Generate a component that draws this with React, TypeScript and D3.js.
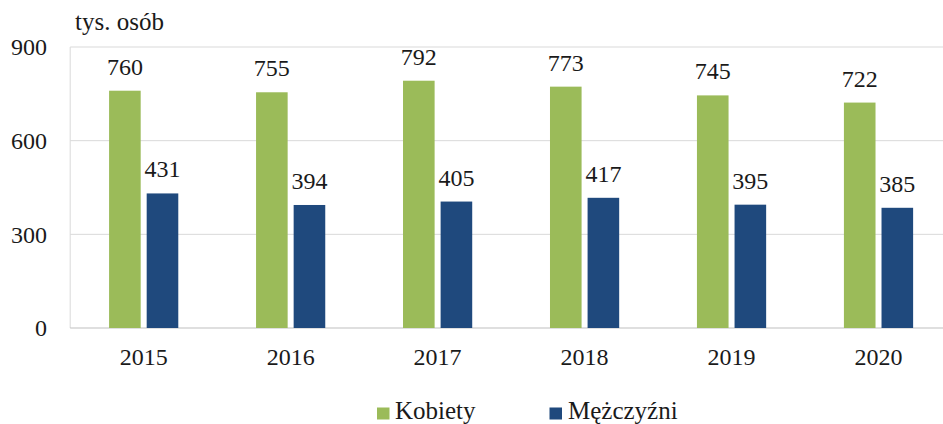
import React from "react";
import * as d3 from "d3";

const years = ["2015", "2016", "2017", "2018", "2019", "2020"];
const kobiety = [760, 755, 792, 773, 745, 722];
const mezczyzni = [431, 394, 405, 417, 395, 385];
const yTicks = [0, 300, 600, 900];
const seriesNames = ["Kobiety", "Mężczyźni"];
const colors = ["#9BBB59", "#1F497D"];

export default function App() {
  const W = 943, H = 424;
  const left = 70.2, right = 952, top = 47, bottom = 328;
  const x = d3.scaleBand<string>().domain(years).range([left, right]).paddingInner(0).paddingOuter(0);
  const y = d3.scaleLinear().domain([0, 900]).range([bottom, top]);
  const bw = 31.6, gap = 6;
  const series = [kobiety, mezczyzni];
  const txt = { fontFamily: "Liberation Serif, serif" } as React.CSSProperties;
  return (
    <svg width={W} height={H} style={{ position: "absolute", left: 0, top: 0, fontFamily: "Liberation Serif, serif" }}>
      <rect width={W} height={H} fill="#fff" />
      {yTicks.filter(t => t > 0).map(t => (
        <line key={t} x1={left} x2={W} y1={y(t)} y2={y(t)} stroke="#d9d9d9" strokeWidth={1} />
      ))}
      <line x1={left} x2={left} y1={top} y2={bottom} stroke="#d9d9d9" strokeWidth={1} />
      <line x1={left} x2={W} y1={bottom} y2={bottom} stroke="#bfbfbf" strokeWidth={1.2} />
      {yTicks.map(t => (
        <text key={t} style={txt} x={47} y={y(t)} dy="0.35em" textAnchor="end" fontSize={24} fill="#1a1a1a">{t}</text>
      ))}
      <text style={txt} x={75} y={30} fontSize={25} fill="#1a1a1a">tys. osób</text>
      {years.map((yr, i) => {
        const c = (x(yr) as number) + x.bandwidth() / 2;
        return (
          <g key={yr}>
            {series.map((s, j) => {
              const bx = j === 0 ? c - gap / 2 - bw : c + gap / 2;
              const v = s[i];
              return (
                <g key={j}>
                  <rect x={bx} y={y(v)} width={bw} height={bottom - y(v)} fill={colors[j]} />
                  <text style={txt} x={bx + bw / 2} y={y(v) - 16} textAnchor="middle" fontSize={24} fill="#1a1a1a">{v}</text>
                </g>
              );
            })}
            <text style={txt} x={c} y={365} textAnchor="middle" fontSize={24} fill="#1a1a1a">{yr}</text>
          </g>
        );
      })}
      {seriesNames.map((n, j) => {
        const lx = j === 0 ? 377 : 549.5;
        return (
          <g key={n}>
            <rect x={lx} y={407.5} width={12.5} height={12} fill={colors[j]} />
            <text style={txt} x={lx + (j === 0 ? 18 : 18.5)} y={419} fontSize={25} fill="#1a1a1a">{n}</text>
          </g>
        );
      })}
    </svg>
  );
}
